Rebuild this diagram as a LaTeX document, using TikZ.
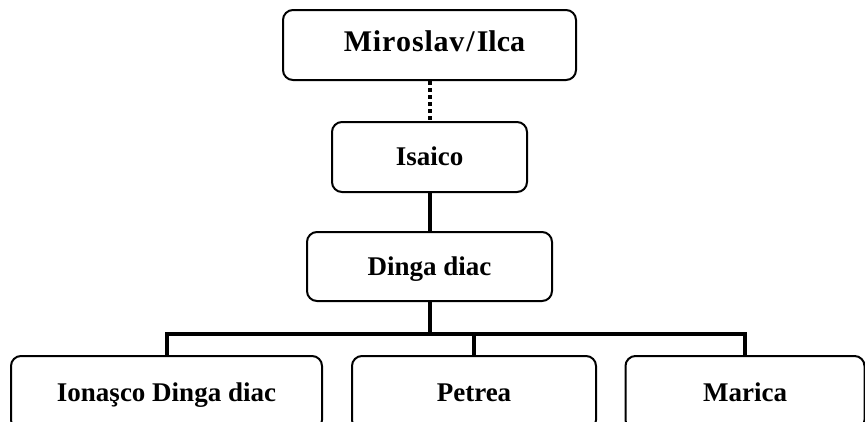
\documentclass[tikz,border=0pt]{standalone}
\usepackage{fontspec}
\setmainfont{Liberation Serif}
\newcommand{\ls}{\kern0.8pt}
\begin{document}
\begin{tikzpicture}[x=1pt,y=-1pt,
  pbox/.style={draw=black,line width=2pt,rounded corners=10pt,inner sep=0pt,
    font=\fontsize{27}{32}\selectfont\bfseries,align=center,
    text height=19pt,text depth=1.5pt},
  link/.style={line width=4pt},
  dotlink/.style={line width=4pt,dash pattern=on 4pt off 3pt}]
\useasboundingbox (0,0) rectangle (865,421);
\clip (0,0) rectangle (865,421);
\fill[white] (0,0) rectangle (865,421);
\node[pbox,minimum width=293pt,minimum height=70pt,
  font=\fontsize{30}{34}\selectfont\bfseries,text height=21pt,text depth=7.6pt] (b1) at (429.5,45)
  {\kern10pt M\ls i\ls r\ls o\ls s\ls l\ls a\ls v\kern2pt/\kern2pt Ilca};
\node[pbox,minimum width=195pt,minimum height=70pt] (b2) at (429.5,157) {Isaico};
\node[pbox,minimum width=245pt,minimum height=69pt] (b3) at (429.5,266.5) {Dinga diac};
\node[pbox,minimum width=311pt,minimum height=74pt] (b4) at (166.5,393) {Ionaşco Dinga diac};
\node[pbox,minimum width=244pt,minimum height=74pt] (b5) at (474,393) {Petrea};
\node[pbox,minimum width=239pt,minimum height=74pt] (b6) at (745,393) {Marica};
\coordinate (bus) at (429.5,334);
\draw[dotlink] (b1.south) -- (b2.north);
\draw[link] (b2.south) -- (b3.north);
\draw[link] (b3.south) -- (bus);
\draw[link] (b4.north) -- (b4.north |- bus) -- (b6.north |- bus) -- (b6.north);
\draw[link] (b5.north) -- (b5.north |- bus);
\end{tikzpicture}
\end{document}
